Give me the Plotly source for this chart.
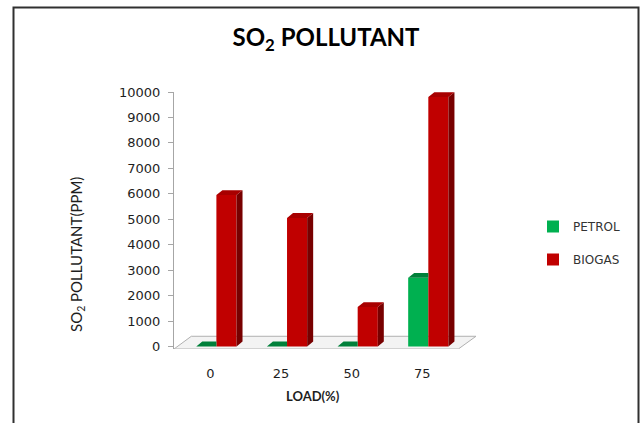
import plotly.graph_objects as go

# ---------------- data ----------------
loads = ["0", "25", "50", "75"]
petrol = [0, 0, 0, 2700]
biogas = [5950, 5050, 1550, 9800]
series_names = ["PETROL", "BIOGAS"]
y_ticks = [0, 1000, 2000, 3000, 4000, 5000, 6000, 7000, 8000, 9000, 10000]
y_tick_labels = [str(v) for v in y_ticks]

# ---------------- styling / geometry ----------------
W, H = 641, 423
L, R, T, B = 174, 165, 92, 74
PW, PH = W - L - R, H - T - B
XR = [-0.515, 3.76]
YR = [-100, 10000]

GREEN = "#00B050"
GREEN_TOP = "#00803A"
RED = "#C00000"
RED_TOP = "#A80000"
RED_SIDE = "#780000"

BAR_W = 0.285
G_OFF = -0.2
R_OFF = G_OFF + BAR_W
DX = 0.085   # depth offset (x units)
DY = 190     # depth offset (y units)

xs = list(range(len(loads)))

fig = go.Figure()

# front faces (bars)
fig.add_trace(go.Bar(x=xs, y=petrol, offset=G_OFF, width=BAR_W, name=series_names[0],
                     marker=dict(color=GREEN, line=dict(width=0)), legendgroup="p"))
fig.add_trace(go.Bar(x=xs, y=biogas, offset=R_OFF, width=BAR_W, name=series_names[1],
                     marker=dict(color=RED, line=dict(width=0)), legendgroup="b"))


def poly_trace(xp, yp, color):
    return go.Scatter(x=xp, y=yp, mode="lines", fill="toself", fillcolor=color,
                      line=dict(width=0, color=color), hoverinfo="skip", showlegend=False)


# green visible top faces (clipped at red front face)
gx, gy = [], []
for i, v in zip(xs, petrol):
    x0 = i + G_OFF
    x1 = x0 + BAR_W
    gx += [x0, x1, x1, x0 + DX, x0, None]
    gy += [v, v, v + DY, v + DY, v, None]
fig.add_trace(poly_trace(gx, gy, GREEN_TOP))

# red side faces
sx, sy = [], []
for i, v in zip(xs, biogas):
    x1 = i + R_OFF + BAR_W
    sx += [x1, x1, x1 + DX, x1 + DX, x1, None]
    sy += [0, v, v + DY, DY, 0, None]
fig.add_trace(poly_trace(sx, sy, RED_SIDE))

# red top faces
tx, ty = [], []
for i, v in zip(xs, biogas):
    x0 = i + R_OFF
    x1 = x0 + BAR_W
    tx += [x0, x1, x1 + DX, x0 + DX, x0, None]
    ty += [v, v, v + DY, v + DY, v, None]
fig.add_trace(poly_trace(tx, ty, RED_TOP))

# floor
floor_path = "M -0.515,-100 L 3.51,-100 L 3.76,400 L -0.27,400 Z"
shapes = [
    dict(type="path", xref="x", yref="y", path=floor_path,
         line=dict(color="#B0B0B0", width=1), fillcolor="rgba(243,243,243,1)", layer="below"),
]


def px2x(px):
    return (px - L) / PW


def py2y(py):
    return 1 - (py - T) / PH


# outer frame
shapes.append(dict(type="rect", xref="paper", yref="paper",
                   x0=px2x(13.5), x1=px2x(638.5), y0=py2y(440), y1=py2y(7.5),
                   line=dict(color="#303030", width=2), fillcolor="rgba(0,0,0,0)", layer="below"))

fig.update_layout(
    width=W, height=H,
    margin=dict(l=L, r=R, t=T, b=B),
    paper_bgcolor="white", plot_bgcolor="white",
    barmode="overlay",
    shapes=shapes,
    title=dict(text="<b>SO<sub>2</sub> POLLUTANT</b>", x=(326) / W, xanchor="center",
               y=1 - 38 / H, yanchor="middle", yref="container",
               font=dict(family="Lato", size=24, color="#000000")),
    xaxis=dict(range=XR, tickvals=xs, ticktext=loads, showgrid=False, zeroline=False,
               showline=False, ticks="outside", ticklen=12, tickcolor="rgba(0,0,0,0)",
               tickfont=dict(family="DejaVu Sans", size=13, color="#1E1E1E")),
    yaxis=dict(range=YR, tickvals=y_ticks, ticktext=y_tick_labels, showgrid=False,
               zeroline=False, showline=True, linecolor="#A6A6A6", linewidth=1,
               ticks="outside", ticklen=5, tickcolor="#A6A6A6", ticklabelstandoff=5,
               tickfont=dict(family="DejaVu Sans", size=13, color="#1E1E1E")),
    legend=dict(x=px2x(533), xanchor="left", y=py2y(212), yanchor="top",
                font=dict(family="DejaVu Sans", size=12, color="#333333"),
                tracegroupgap=14, bgcolor="rgba(0,0,0,0)", traceorder="grouped"),
    annotations=[
        dict(text="<b>LOAD(%)</b>", xref="paper", yref="paper", x=px2x(313), y=py2y(396),
             xanchor="center", yanchor="middle", showarrow=False,
             font=dict(family="Lato", size=13, color="#1E1E1E")),
        dict(text="SO<sub>2</sub> POLLUTANT(PPM)", xref="paper", yref="paper",
             x=px2x(77), y=py2y(255), xanchor="center", yanchor="middle", textangle=-90,
             showarrow=False, font=dict(family="Lato", size=15, color="#1E1E1E")),
    ],
)

fig.write_html("out.html")
